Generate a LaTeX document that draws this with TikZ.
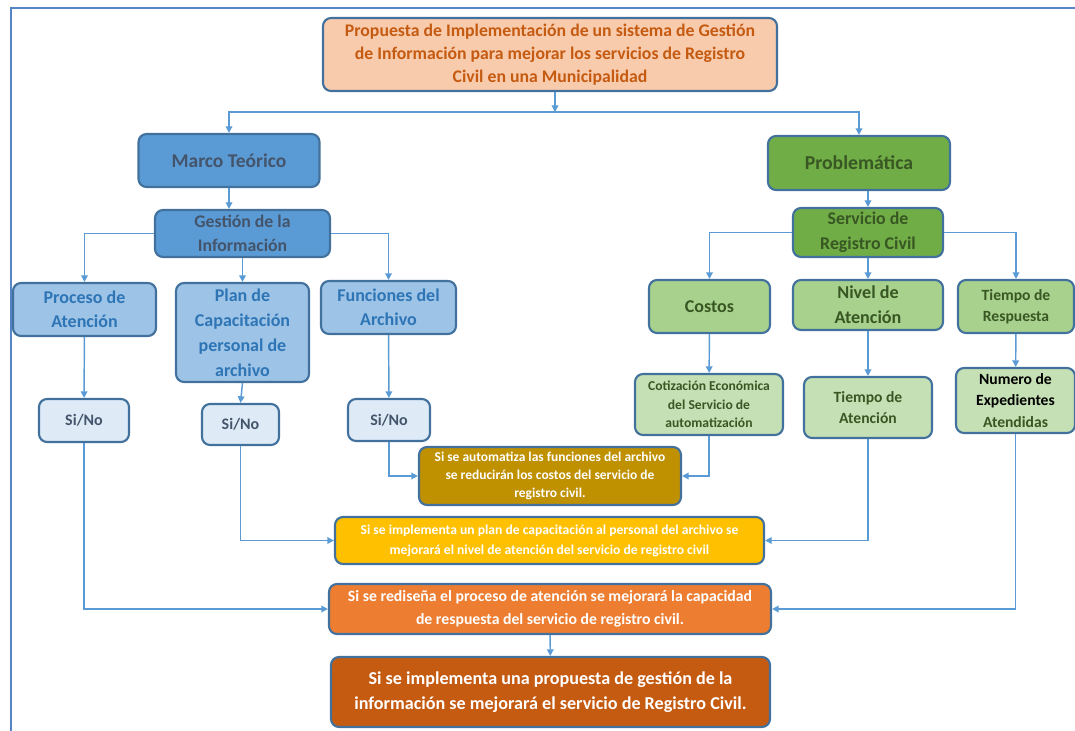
\documentclass[tikz,border=0pt]{standalone}
\usepackage{fontspec}
\setmainfont{Carlito}
\usetikzlibrary{arrows.meta,positioning}

\definecolor{borde}{HTML}{41719C}
\definecolor{flecha}{HTML}{5B9BD5}
\definecolor{marcoazul}{HTML}{5585C5}
\definecolor{titfill}{HTML}{F8CBAD}
\definecolor{tittext}{HTML}{C55A11}
\definecolor{azul}{HTML}{5B9BD5}
\definecolor{azultext}{HTML}{44546A}
\definecolor{azulclaro}{HTML}{9DC3E6}
\definecolor{azulclarotext}{HTML}{2E75B6}
\definecolor{azulpalido}{HTML}{DEEBF7}
\definecolor{verde}{HTML}{70AD47}
\definecolor{verdetext}{HTML}{385723}
\definecolor{verdeclaro}{HTML}{A9D18E}
\definecolor{verdepalido}{HTML}{C5E0B4}
\definecolor{oro}{HTML}{BF9000}
\definecolor{amarillo}{HTML}{FFC000}
\definecolor{naranja}{HTML}{ED7D31}
\definecolor{naranjaosc}{HTML}{C55A11}

\begin{document}
\begin{tikzpicture}[
    x=0.75pt, y=-0.75pt,
    box/.style={rectangle,rounded corners=6pt,draw=borde,line width=1.6pt,inner sep=0pt,align=center},
    fs/.style 2 args={font=\fontsize{#1}{#2}\selectfont\bfseries},
    titulo/.style={box,fill=titfill,text=tittext,fs={13.3}{17.5}},
    eje/.style={box,fill=azul,text=azultext},
    rama/.style={box,fill=azulclaro,text=azulclarotext,fs={13.5}{18}},
    sino/.style={box,fill=azulpalido,text=azultext,fs={12}{14}},
    ejeverde/.style={box,fill=verde,text=verdetext},
    ramaverde/.style={box,fill=verdeclaro,text=verdetext},
    hojaverde/.style={box,fill=verdepalido,text=verdetext},
    hipo/.style={box,text=white},
    link/.style={draw=flecha,line width=1.1pt,-{Triangle[width=5pt,length=5pt]}},
    linea/.style={draw=flecha,line width=1.1pt}
]
    \useasboundingbox (0,0) rectangle (1075,731);
    \draw[marcoazul,line width=2.2pt] (11,731) -- (11,8) -- (1075,8);

    % cabecera
    \node[titulo,minimum width=340.5pt,minimum height=54.75pt] (tit) at (550,54.5)
        {Propuesta de Implementación de un sistema de Gestión\\de Información para mejorar los servicios de Registro\\Civil en una Municipalidad};
    \coordinate (bus) at (555,112);

    % rama izquierda
    \node[eje,fs={14.6}{16},minimum width=135.75pt,minimum height=39.75pt] (marco) at (229,160.5) {Marco Teórico};
    \node[eje,fs={13.3}{18},minimum width=131.25pt,minimum height=35.25pt] (gest) at (242.5,233.5) {Gestión de la\\Información};
    \node[rama,minimum width=107.25pt,minimum height=39.75pt] (proc) at (84.5,309.5) {Proceso de\\Atención};
    \node[rama,fs={13.5}{18.75},minimum width=99.75pt,minimum height=74.25pt] (plan) at (242.5,332.5) {Plan de\\Capacitación\\personal de\\archivo};
    \node[rama,minimum width=101.25pt,minimum height=39.75pt] (func) at (388.5,307.5) {Funciones del\\Archivo};
    \node[sino,minimum width=67.5pt,minimum height=32.25pt] (sino1) at (84,420.5) {Si/No};
    \node[sino,minimum width=57.75pt,minimum height=30.75pt] (sino2) at (240.5,424.5) {Si/No};
    \node[sino,minimum width=61.5pt,minimum height=31.5pt] (sino3) at (389,420) {Si/No};

    % rama derecha
    \node[ejeverde,fs={14.8}{16},minimum width=136.5pt,minimum height=40.5pt] (prob) at (859,163) {Problemática};
    \node[ejeverde,fs={13.4}{18.5},minimum width=112.5pt,minimum height=36.75pt] (serv) at (868,232.5) {Servicio de\\Registro Civil};
    \node[ramaverde,fs={13.5}{16},minimum width=90.75pt,minimum height=39.75pt] (cost) at (709.5,306.5) {Costos};
    \node[ramaverde,fs={13.6}{18.5},minimum width=112.5pt,minimum height=37.5pt] (nivel) at (868,305) {Nivel de\\Atención};
    \node[ramaverde,fs={11.7}{16},minimum width=87pt,minimum height=39.75pt] (tresp) at (1016,306.5) {Tiempo de\\Respuesta};
    \node[hojaverde,fs={10.2}{14},minimum width=111pt,minimum height=45.75pt] (cotiz) at (709,404.5) {Cotización Económica\\del Servicio de\\automatización};
    \node[hojaverde,fs={11.7}{16},minimum width=96pt,minimum height=45.75pt] (tatenc) at (868,407.5) {Tiempo de\\Atención};
    \node[hojaverde,fs={11.7}{16},minimum width=89.25pt,minimum height=48.75pt] (numexp) at (1015.5,400.5)
        {\textcolor{black}{Numero de}\\\textcolor{black}{Expedientes}\\Atendidas};

    % hipotesis
    \node[hipo,fill=oro,fs={10.1}{13.5},minimum width=196.5pt,minimum height=43.5pt] (hipA) at (550,476)
        {Si se automatiza las funciones del archivo\\se reducirán los costos del servicio de\\registro civil.};
    \node[hipo,fill=amarillo,fs={10.2}{15},minimum width=321.75pt,minimum height=35.25pt] (hipB) at (549.5,540.5)
        {Si se implementa un plan de capacitación al personal del archivo se\\mejorará el nivel de atención del servicio de registro civil};
    \node[hipo,fill=naranja,fs={11.8}{17.5},minimum width=331.5pt,minimum height=37.5pt] (hipC) at (550,609)
        {Si se rediseña el proceso de atención se mejorará la capacidad\\de respuesta del servicio de registro civil.};
    \node[hipo,fill=naranjaosc,fs={13.6}{18.75},minimum width=329.25pt,minimum height=52.5pt] (hipD) at (550.5,692)
        {Si se implementa una propuesta de gestión de la\\información se mejorará el servicio de Registro Civil.};

    % conectores
    \draw[link] (tit.south -| bus) -- (bus);
    \draw[link] (bus) -| (marco);
    \draw[link] (bus) -| (prob);
    \draw[link] (marco.south) -- (marco.south |- gest.north);
    \draw[link] (gest.west) -| (proc);
    \draw[link] (gest) -- (plan);
    \draw[link] (gest.east) -| (func);
    \draw[link] (proc) -- (sino1);
    \draw[link] (plan.south) -- (sino2.north);
    \draw[link] (func) -- (sino3);
    \draw[link] (serv.north |- prob.south) -- (serv.north);
    \draw[link] (serv.west) -| (cost);
    \draw[link] (serv) -- (nivel);
    \draw[link] (serv.east) -| (tresp);
    \draw[link] (cost) -- (cotiz);
    \draw[link] (nivel) -- (tatenc);
    \draw[link] (tresp) -- (numexp);
    \draw[link] (sino3.south) |- (hipA.west);
    \draw[link] (cotiz.south) |- (hipA.east);
    \draw[link] (sino2.south) |- (hipB.west);
    \draw[link] (tatenc.south) |- (hipB.east);
    \draw[link] (sino1.south) |- (hipC.west);
    \draw[link] (numexp.south) |- (hipC.east);
    \draw[link] (hipC) -- (hipD);
\end{tikzpicture}
\end{document}
